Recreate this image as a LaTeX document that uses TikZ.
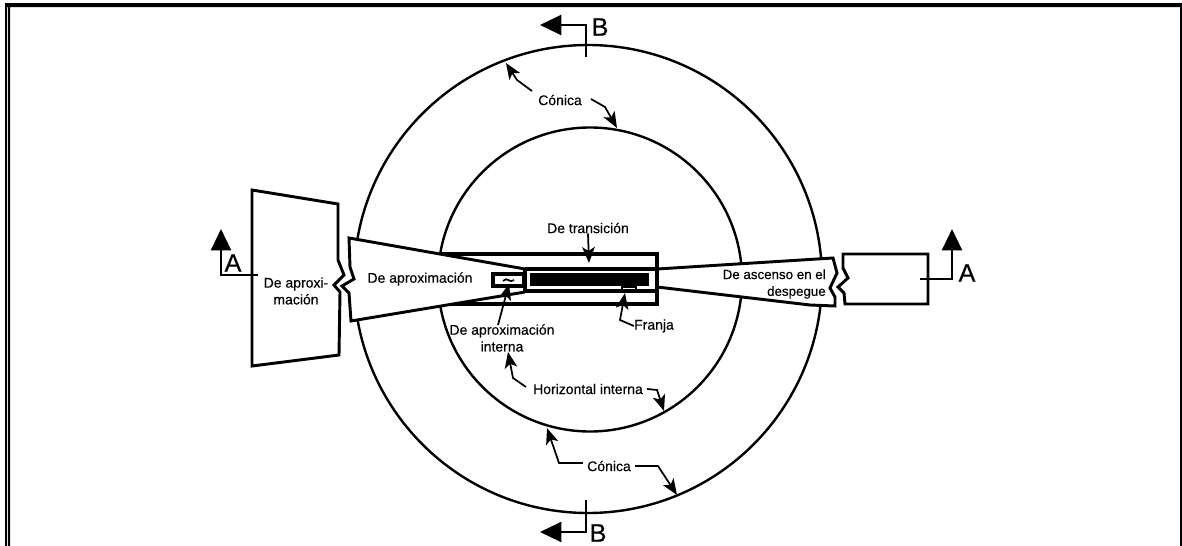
\documentclass[tikz,border=0pt]{standalone}
\usepackage{fontspec}
\setmainfont{Liberation Sans}[FakeBold=0.3]
\usetikzlibrary{arrows.meta}
\tikzset{
	surface/.style={black, line width=2.2pt, fill=white, line join=miter},
	strip/.style={black, line width=2.6pt},
	ring/.style={black, line width=1.8pt},
	leader/.style={black, line width=1.3pt, -{Stealth[length=12pt, width=9.5pt, inset=3pt]}},
	section/.style={black, line width=1.7pt, -{Triangle[length=16pt, width=15pt]}},
	label/.style={inner sep=0pt, align=center, font=\fontsize{10.5}{12.6}\selectfont},
	letter/.style={inner sep=0pt, font=\fontsize{19}{19}\selectfont}
}
\begin{document}
\begin{tikzpicture}[x=0.75pt, y=-0.75pt]
	\useasboundingbox (0, 0) rectangle (1182, 546);

	\fill[black]	(5, 3) rectangle (1182, 7)
					(5, 3) rectangle (7, 546)
					(8, 7) rectangle (10, 546)
					(1180, 3) rectangle (1182, 546);

	\draw[ring]	(588, 279) circle (234);
	\draw[ring]	(590, 279.5) circle (152);

	\draw[surface]	(338, 204) to (252, 190) to (252, 366) to (339, 355) to (340, 292) to (334, 285) to (344, 275) to (338, 260) to cycle;
	\draw[surface]	(843, 254) to (928, 254) to (928, 304) to (845, 304) to (844, 293) to (838, 287) to (848, 278) to (843, 268) to cycle;

	\filldraw[surface]	(657, 269) to (833, 258) to (837, 273) to (830, 288) to (835, 297) to (835, 306) to (810, 305) to (657, 287);
	\draw[strip, fill=white]	(440, 254) to (657, 254) to (657, 304) to (440, 304);
	\filldraw[surface]	(525, 269) to (349, 238) to (350, 267) to (354, 279) to (342, 286) to (349, 293) to (351, 321) to (525, 292);
	\draw[strip]	(525, 269) to (657, 269) (525, 291) to (657, 291) (525, 269) to (525, 292);

	\draw[strip, fill=white]	(493, 274) rectangle (524, 286);
	\fill[black]	(530, 273) rectangle (649, 286);
	\draw[black, line width=1.4pt]	(622, 287) rectangle (636, 290);
	\draw[black, line width=1.3pt]	(503, 281) .. controls (507, 276) and (510, 284) .. (514, 280);

	\node[label]	(conicaTop)		at (560, 100)	{Cónica};
	\node[label]	(conicaBot)		at (609, 466)	{Cónica};
	\node[label]	(transicion)	at (588, 228)	{De transición};
	\node[label]	(aproxFar)		at (296, 291)	{De aproxi-\\mación};
	\node[label]	(aprox)			at (420, 279)	{De aproximación};
	\node[label, align=right, anchor=east, font=\fontsize{10}{12.6}\selectfont]	(ascenso)	at (826, 284)	{De ascenso en el\\despegue};
	\node[label]	(franja)		at (654, 326)	{Franja};
	\node[label]	(interna)		at (502, 338)	{De aproximación\\interna};
	\node[label]	(horizontal)	at (588, 389)	{Horizontal interna};

	\draw[leader]	(532, 91) to (517, 80) to (506, 63);
	\draw[leader]	(591, 99) to (605, 107) to (617, 128);
	\draw[leader]	(transicion.south) to (589, 263);
	\draw[leader]	(franja.west) to (620, 320) to (625, 293);
	\draw[leader]	(498, 325) to (509, 284);
	\draw[leader]	(526, 387) to (513, 378) to (508, 352);
	\draw[leader]	(horizontal.east) ++(4, 0) to (657, 390) to (664, 411);
	\draw[leader]	(conicaBot.west) ++(-4, -3) to (559, 463) to (547, 428);
	\draw[leader]	(conicaBot.east) ++(4, 0) to (658, 466) to (677, 495);

	\node[letter]	(sectAL)	at (233, 263)	{A};
	\node[letter]	(sectAR)	at (967, 273)	{A};
	\node[letter]	(sectBT)	at (600, 27)	{B};
	\node[letter]	(sectBB)	at (598, 533)	{B};

	\draw[section]	(258, 275) to (221, 275) to (221, 229);
	\draw[section]	(920, 279) to (952, 279) to (952, 229);
	\draw[section]	(586, 57) to (586, 25) to (540, 25);
	\draw[section]	(586, 500) to (586, 532) to (540, 532);
\end{tikzpicture}
\end{document}
